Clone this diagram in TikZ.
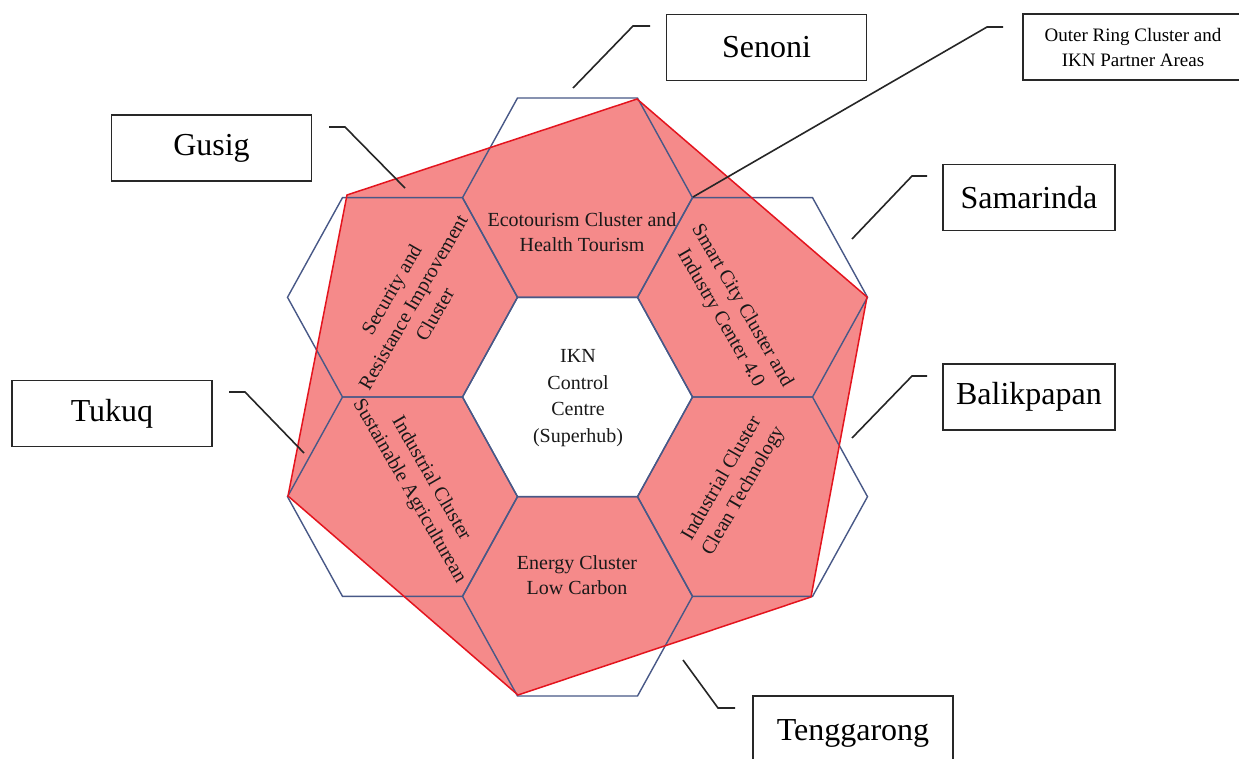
\documentclass[tikz,border=0pt]{standalone}
\usepackage{fontspec}
\setmainfont{Liberation Serif}
\definecolor{hexblue}{RGB}{72,88,135}
\definecolor{redfill}{RGB}{245,138,138}
\definecolor{redline}{RGB}{228,20,30}
\definecolor{boxline}{RGB}{40,40,40}
\begin{document}
\begin{tikzpicture}[x=1pt,y=-1pt,
  hexline/.style={draw=hexblue,line width=1.4pt,line join=miter},
  hextext/.style={align=center,font=\fontsize{20}{25}\selectfont,text=black!90,inner sep=0pt},
  labelbox/.style={draw=boxline,line width=1.4pt,fill=white,inner sep=0pt,minimum width=200pt,minimum height=66pt,font=\fontsize{32}{36}\selectfont},
  leader/.style={draw=black!85,line width=1.6pt},
  hexa/.pic={\path[hexline] (-115,0) -- (-60,-99.7) -- (60,-99.7) -- (115,0) -- (60,99.7) -- (-60,99.7) -- cycle;}
]
\useasboundingbox (0,0) rectangle (1239,758);
\fill[white] (0,0) rectangle (1239,758);

% red region
\coordinate (r1) at (637,99);
\coordinate (r2) at (867,297);
\coordinate (r3) at (811,597);
\coordinate (r4) at (518,695);
\coordinate (r5) at (288,496);
\coordinate (r6) at (347,195);
\fill[redfill] (r1) -- (r2) -- (r3) -- (r4) -- (r5) -- (r6) -- cycle;

% centre hexagon (white)
\fill[white] (462.5,397) -- (517.5,297.3) -- (637.5,297.3) -- (692.5,397) -- (637.5,496.7) -- (517.5,496.7) -- cycle;

% hexagon outlines
\pic at (577.5,397) {hexa};
\pic at (577.5,197.7) {hexa};
\pic at (577.5,596.3) {hexa};
\pic at (752.5,297.3) {hexa};
\pic at (752.5,496.7) {hexa};
\pic at (402.5,297.3) {hexa};
\pic at (402.5,496.7) {hexa};

\draw[redline,line width=1.5pt,line join=miter] (r1) -- (r2) -- (r3) -- (r4) -- (r5) -- (r6) -- cycle;

% hexagon texts
\node[hextext,font=\fontsize{20}{26.5}\selectfont] (centre) at (578,398) {IKN\\Control\\Centre\\(Superhub)};
\node[hextext] (eco) at (582,232) {Ecotourism Cluster and\\Health Tourism};
\node[hextext] (energy) at (577,575) {Energy Cluster\\Low Carbon};
\node[hextext,rotate=60] (security) at (413,302) {Security and\\Resistance Improvement\\Cluster};
\node[hextext,rotate=-60] (smart) at (731,312) {Smart City Cluster and\\Industry Center 4.0};
\node[hextext,rotate=60] (clean) at (733,485) {Industrial Cluster\\Clean Technology};
\node[hextext,rotate=-60] (agri) at (420,485) {Industrial Cluster\\Sustainable Agriculturean};

% label boxes
\node[labelbox] (senoni) at (766.5,47.5) {Senoni};
\node[labelbox] (gusig) at (211.5,148) {Gusig};
\node[labelbox] (tukuq) at (112,413.5) {Tukuq};
\node[labelbox,minimum width=172pt] (samarinda) at (1029,197.5) {Samarinda};
\node[labelbox,minimum width=172pt] (balikpapan) at (1029,397) {Balikpapan};
\node[labelbox,minimum height=74pt] (tenggarong) at (853,733) {Tenggarong};
\node[labelbox,minimum width=220pt,align=center,font=\fontsize{19}{25}\selectfont] (outer) at (1133,47) {Outer Ring Cluster and\\IKN Partner Areas};

% leader lines
\coordinate (g1) at (329,127); \coordinate (g2) at (345,127); \coordinate (g3) at (405,188);
\draw[leader] (g1) -- (g2) -- (g3);
\coordinate (t1) at (229,392); \coordinate (t2) at (245,392); \coordinate (t3) at (304,453);
\draw[leader] (t1) -- (t2) -- (t3);
\coordinate (s1) at (650,26); \coordinate (s2) at (633,26); \coordinate (s3) at (573,88);
\draw[leader] (s1) -- (s2) -- (s3);
\coordinate (o1) at (1003,27); \coordinate (o2) at (987,27); \coordinate (o3) at (693,197);
\draw[leader] (o1) -- (o2) -- (o3);
\coordinate (m1) at (927,176); \coordinate (m2) at (912,176); \coordinate (m3) at (852,239);
\draw[leader] (m1) -- (m2) -- (m3);
\coordinate (b1) at (927,376); \coordinate (b2) at (912,376); \coordinate (b3) at (852,438);
\draw[leader] (b1) -- (b2) -- (b3);
\coordinate (e1) at (735,708); \coordinate (e2) at (718,708); \coordinate (e3) at (683,660);
\draw[leader] (e1) -- (e2) -- (e3);
\end{tikzpicture}
\end{document}
